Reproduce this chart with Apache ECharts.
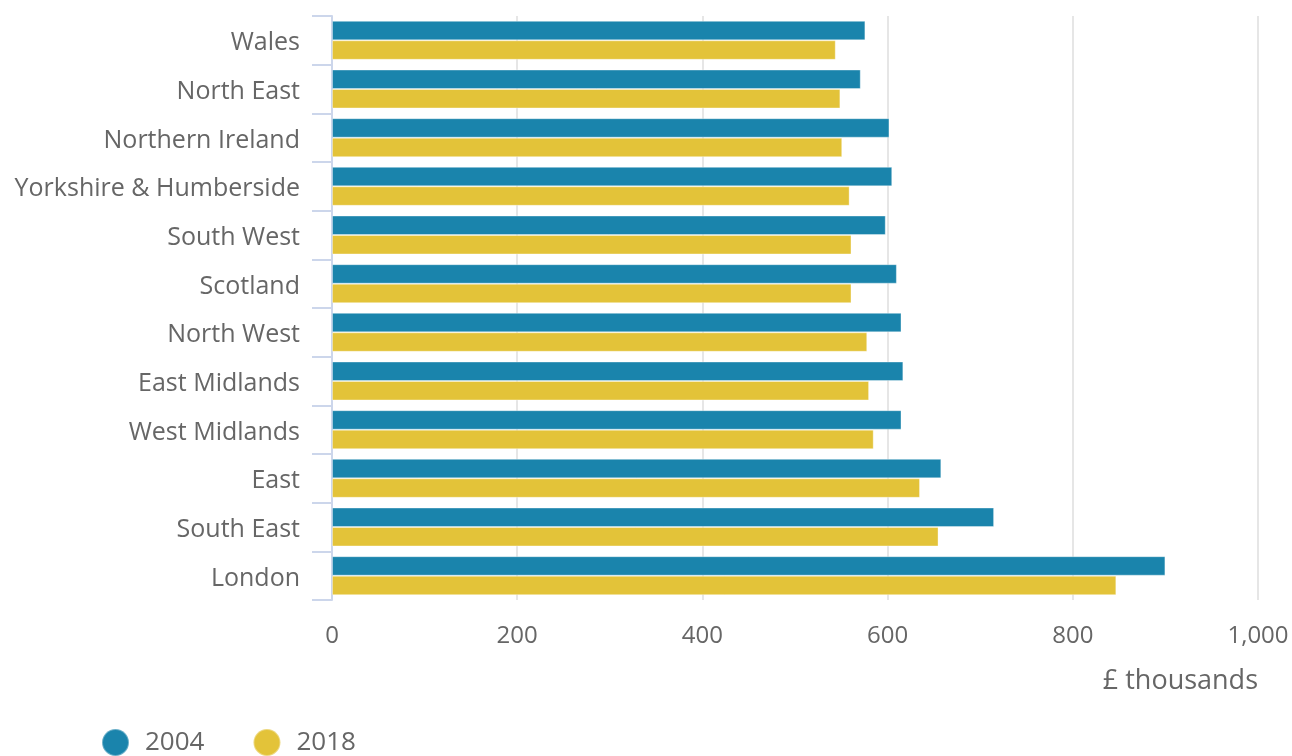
<!DOCTYPE html>
<html>
<head>
<meta charset="utf-8">
<script src="https://cdn.jsdelivr.net/npm/echarts@6/dist/echarts.min.js"></script>
<style>
  html, body { margin: 0; padding: 0; background: #fff; }
  #chart { width: 1292px; height: 756px; }
</style>
</head>
<body>
<div id="chart"></div>
<script>
const regions = ['Wales', 'North East', 'Northern Ireland', 'Yorkshire & Humberside', 'South West',
    'Scotland', 'North West', 'East Midlands', 'West Midlands', 'East', 'South East', 'London'];
const values2004 = [576, 571, 602, 605, 598, 610, 615, 617, 615, 658, 715, 900];
const values2018 = [544, 549, 551, 559, 561, 561, 578, 580, 585, 635, 655, 847];
const xTicks = { min: 0, max: 1000, interval: 200 };

const textColor = '#666666';
const font = '"Open Sans", sans-serif';

const chart = echarts.init(document.getElementById('chart'));

chart.setOption({
    animation: false,
    grid: { left: 332, right: 34, top: 16, bottom: 156, containLabel: false },
    legend: {
        left: 96, bottom: -6,
        icon: 'circle', itemWidth: 27, itemHeight: 27, itemGap: 48,
        textStyle: { color: textColor, fontSize: 26, fontFamily: font, padding: [0, 0, 0, 11] },
        data: ['2004', '2018']
    },
    xAxis: {
        type: 'value', min: xTicks.min, max: xTicks.max, interval: xTicks.interval,
        name: '£ thousands', nameLocation: 'end', nameGap: 0,
        nameTextStyle: { color: textColor, fontSize: 27, fontFamily: font, align: 'right', verticalAlign: 'top', padding: [68, 0, 0, 0] },
        axisLine: { show: false },
        axisTick: { show: false },
        axisLabel: {
            color: textColor, fontSize: 24, fontFamily: font, margin: 24,
            formatter: v => v.toLocaleString('en-GB')
        },
        splitLine: { show: true, lineStyle: { color: '#e6e6e6', width: 2 } }
    },
    yAxis: {
        type: 'category', data: regions, inverse: true,
        axisLine: { show: true, lineStyle: { color: '#ccd6eb', width: 2 } },
        axisTick: { show: true, length: 20, lineStyle: { color: '#ccd6eb', width: 2 } },
        axisLabel: {
            margin: 32,
            formatter: v => '{r|' + v + '}',
            rich: { r: { color: textColor, fontSize: 25, fontFamily: font, padding: [6, 0, 0, 0] } }
        }
    },
    series: [
        {
            name: '2004', type: 'bar', data: values2004,
            barGap: '0%', barCategoryGap: '20%',
            itemStyle: { color: '#1a84ac', borderColor: 'rgba(255,255,255,0.35)', borderWidth: 1 }
        },
        {
            name: '2018', type: 'bar', data: values2018,
            itemStyle: { color: '#e3c339', borderColor: 'rgba(255,255,255,0.35)', borderWidth: 1 }
        }
    ]
});
</script>
</body>
</html>
